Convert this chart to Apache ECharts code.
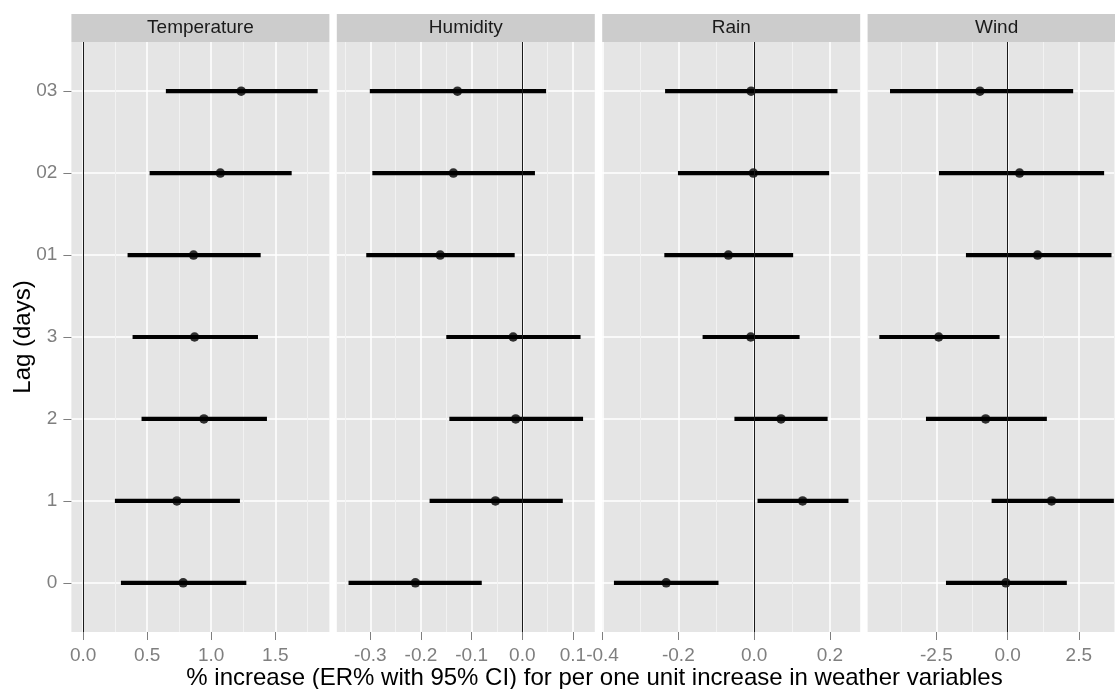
<!DOCTYPE html>
<html>
<head>
<meta charset="utf-8">
<script src="https://cdn.jsdelivr.net/npm/echarts@6.0.0/dist/echarts.min.js"></script>
<style>
  html, body { margin: 0; padding: 0; background: #ffffff; }
  #chart { width: 1115px; height: 689px; }
</style>
</head>
<body>
<div id="chart"></div>
<script>
// ---------------- DATA ----------------
const lags = ['0', '1', '2', '3', '01', '02', '03'];           // bottom -> top
const lagTicks = [0, 1, 2, 3, 4, 5, 6];
const panels = ['Temperature', 'Humidity', 'Rain', 'Wind'];

const tempEst = [0.781, 0.732, 0.943, 0.870, 0.862, 1.071, 1.234];
const tempLo  = [0.295, 0.248, 0.456, 0.386, 0.347, 0.519, 0.646];
const tempHi  = [1.274, 1.224, 1.435, 1.365, 1.386, 1.628, 1.831];

const humEst = [-0.211, -0.053, -0.013, -0.018, -0.162, -0.136, -0.128];
const humLo  = [-0.343, -0.183, -0.144, -0.150, -0.308, -0.296, -0.301];
const humHi  = [-0.080, 0.080, 0.120, 0.115, -0.015, 0.025, 0.047];

const rainEst = [-0.232, 0.128, 0.071, -0.009, -0.068, -0.002, -0.008];
const rainLo  = [-0.370, 0.009, -0.052, -0.136, -0.237, -0.201, -0.235];
const rainHi  = [-0.094, 0.249, 0.194, 0.120, 0.103, 0.198, 0.220];

const windEst = [-0.060, 1.543, -0.771, -2.419, 1.052, 0.420, -0.971];
const windLo  = [-2.163, -0.561, -2.865, -4.502, -1.462, -2.409, -4.127];
const windHi  = [2.079, 3.730, 1.378, -0.281, 3.646, 3.388, 2.301];

const tempTickLabels = ['0.0', '0.5', '1.0', '1.5'];
const humTickLabels  = ['-0.3', '-0.2', '-0.1', '0.0', '0.1'];
const rainTickLabels = ['-0.4', '-0.2', '0.0', '0.2'];
const windTickLabels = ['-2.5', '0.0', '2.5'];

const tempMinor = [0.25, 0.75, 1.25, 1.75];
const humMinor  = [-0.35, -0.25, -0.15, -0.05, 0.05];
const rainMinor = [-0.3, -0.1, 0.1];
const windMinor = [-3.75, -1.25, 1.25, 3.75];

const refLine = 0;
const xTitle = '% increase (ER% with 95% CI) for per one unit increase in weather variables';
const yTitle = 'Lag (days)';

// ---------------- LAYOUT / STYLE ----------------
const FONT = 'Liberation Sans, Arial, Helvetica, sans-serif';
const PANEL_LEFT = 71.4, PANEL_W = 258, GAP = 7.4, TOP = 42, HEIGHT = 590;
const STRIP_TOP = 14, STRIP_H = 28;
const GREY = '#7F7F7F';

const panelData = [
  {est: tempEst, lo: tempLo, hi: tempHi, ticks: tempTickLabels, minor: tempMinor},
  {est: humEst,  lo: humLo,  hi: humHi,  ticks: humTickLabels,  minor: humMinor},
  {est: rainEst, lo: rainLo, hi: rainHi, ticks: rainTickLabels, minor: rainMinor},
  {est: windEst, lo: windLo, hi: windHi, ticks: windTickLabels, minor: windMinor}
];

const grids = [], xAxes = [], yAxes = [], series = [], graphics = [];

panelData.forEach((p, i) => {
  const left = PANEL_LEFT + i * (PANEL_W + GAP);
  const dMin = Math.min(refLine, ...p.lo);
  const dMax = Math.max(refLine, ...p.hi);
  const pad = (dMax - dMin) * 0.05;
  const xmin = dMin - pad, xmax = dMax + pad;
  const majors = p.ticks.map(Number);

  grids.push({
    left: left, top: TOP, width: PANEL_W, height: HEIGHT,
    show: true, backgroundColor: '#E5E5E5', borderWidth: 0,
    containLabel: false, outerBoundsMode: 'none'
  });

  xAxes.push({
    type: 'value', gridIndex: i, min: xmin, max: xmax, position: 'bottom',
    axisLine: {show: false, onZero: false},
    axisTick: {show: true, length: 8, lineStyle: {color: GREY, width: 1}, customValues: majors},
    axisLabel: {show: true, customValues: majors, color: GREY, fontSize: 19, fontFamily: FONT, margin: 14,
      formatter: v => { const k = majors.findIndex(m => Math.abs(m - v) < 1e-9); return k >= 0 ? p.ticks[k] : ''; }},
    splitLine: {show: true, lineStyle: {color: '#FFFFFF', width: 1.5}}
  });
  xAxes.push({
    type: 'value', gridIndex: i, min: xmin, max: xmax, position: 'bottom',
    axisLine: {show: false, onZero: false},
    axisTick: {show: false, customValues: p.minor},
    axisLabel: {show: false, customValues: p.minor},
    splitLine: {show: true, lineStyle: {color: '#F2F2F2', width: 1}}
  });

  yAxes.push({
    type: 'value', gridIndex: i, min: -0.6, max: 6.6, position: 'left',
    axisLine: {show: false, onZero: false},
    axisTick: {show: i === 0, length: 8, lineStyle: {color: GREY, width: 1}, customValues: lagTicks},
    axisLabel: {show: i === 0, customValues: lagTicks, color: GREY, fontSize: 19, fontFamily: FONT, margin: 14,
      formatter: v => lags[Math.round(v)]},
    splitLine: {show: true, lineStyle: {color: '#FFFFFF', width: 1.5}}
  });

  const barData = p.est.map((_, k) => [k, p.lo[k], p.hi[k]]);
  series.push({
    type: 'custom', xAxisIndex: 2 * i, yAxisIndex: i, z: 3,
    data: barData,
    encode: {x: [1, 2], y: 0},
    renderItem: (params, api) => {
      const y = api.value(0), lo = api.value(1), hi = api.value(2);
      const a = api.coord([lo, y]), b = api.coord([hi, y]);
      return {type: 'line', shape: {x1: a[0], y1: a[1], x2: b[0], y2: b[1]},
              style: {stroke: '#000000', lineWidth: 4.2}};
    }
  });
  series.push({
    type: 'scatter', xAxisIndex: 2 * i, yAxisIndex: i, z: 4,
    data: p.est.map((e, k) => [e, k]),
    symbol: 'circle', symbolSize: 9.5,
    itemStyle: {color: '#000000'},
    markLine: {
      silent: true, symbol: 'none', label: {show: false},
      lineStyle: {color: '#1A1A1A', width: 1, type: 'solid'},
      data: [{xAxis: refLine}]
    }
  });

  graphics.push({
    type: 'rect', shape: {x: left, y: STRIP_TOP, width: PANEL_W, height: STRIP_H},
    style: {fill: '#CCCCCC'}, silent: true
  });
  graphics.push({
    type: 'text', x: left + PANEL_W / 2, y: STRIP_TOP + STRIP_H / 2,
    style: {text: panels[i], fill: '#1A1A1A', font: '19px ' + FONT, align: 'center', verticalAlign: 'middle'},
    silent: true
  });
});

const panelsRight = PANEL_LEFT + 4 * PANEL_W + 3 * GAP;
graphics.push({
  type: 'text', x: (PANEL_LEFT + panelsRight) / 2 - 4, y: 678,
  style: {text: xTitle, fill: '#000000', font: '24px ' + FONT, align: 'center', verticalAlign: 'middle'},
  silent: true
});
graphics.push({
  type: 'text', x: 23, y: TOP + HEIGHT / 2, rotation: Math.PI / 2,
  style: {text: yTitle, fill: '#000000', font: '24px ' + FONT, align: 'center', verticalAlign: 'middle'},
  silent: true
});

const chart = echarts.init(document.getElementById('chart'), null, {renderer: 'canvas'});
chart.setOption({
  backgroundColor: '#FFFFFF',
  animation: false,
  textStyle: {fontFamily: FONT},
  grid: grids,
  xAxis: xAxes,
  yAxis: yAxes,
  series: series,
  graphic: graphics
});
</script>
</body>
</html>
